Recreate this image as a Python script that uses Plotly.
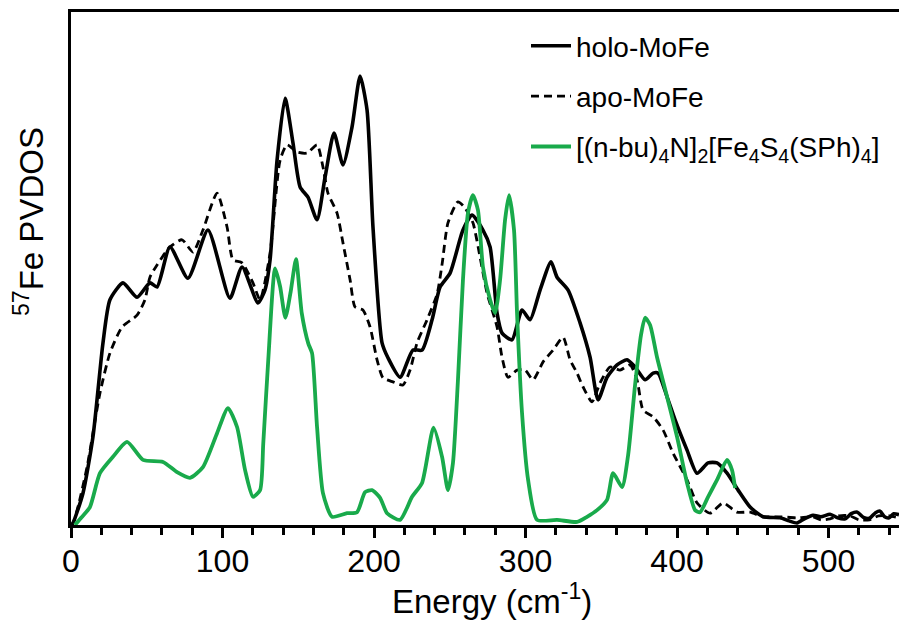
import plotly.graph_objects as go

# ---- data ----
holo_x = [0, 1.3, 7.9, 14.5, 21.1, 25.7, 34.3, 43.6, 52.1, 56.8, 65.3, 77.2, 90.4, 104.9, 112.9, 123.4,
          128.0, 131.4, 136.0, 141.3, 146.5, 151.2, 156.4, 162.4, 167.7, 173.6, 179.5, 185.5, 190.8, 195.4,
          199.3, 205.3, 209.2, 217.2, 225.7, 231.7, 238.3, 243.6, 250.2, 258.7, 264.7, 271.9, 276.6, 281.2,
          284.5, 291.1, 297.7, 303.0, 309.6, 316.8, 320.8, 328.1, 336.0, 342.6, 347.9, 353.8, 360.4, 367.0,
          372.3, 378.9, 384.2, 387.5, 393.4, 398.7, 406.6, 413.2, 420.5, 426.4, 433.0, 440.3, 448.2, 456.8,
          468.0, 474.0, 479.2, 484.0, 489.8, 495.0, 501.0, 506.0, 511.0, 515.0, 519.0, 523.0, 527.0, 531.0,
          534.0, 537.0, 540.0, 543.0, 546.5]
holo_y = [0, 0.004, 0.062, 0.172, 0.355, 0.439, 0.472, 0.444, 0.472, 0.464, 0.542, 0.481, 0.575, 0.442, 0.503, 0.433,
          0.458, 0.517, 0.711, 0.832, 0.745, 0.659, 0.639, 0.595, 0.678, 0.764, 0.702, 0.776, 0.875, 0.809,
          0.581, 0.355, 0.326, 0.288, 0.341, 0.341, 0.400, 0.464, 0.491, 0.575, 0.604, 0.575, 0.542, 0.413,
          0.374, 0.361, 0.419, 0.400, 0.458, 0.513, 0.483, 0.458, 0.394, 0.327, 0.244, 0.288, 0.312, 0.322,
          0.308, 0.283, 0.296, 0.296, 0.250, 0.205, 0.146, 0.101, 0.121, 0.121, 0.101, 0.068, 0.035, 0.016,
          0.014, 0.008, 0.004, 0.012, 0.019, 0.016, 0.021, 0.014, 0.012, 0.022, 0.025, 0.015, 0.013, 0.024,
          0.027, 0.016, 0.014, 0.022, 0.020]

apo_x = [0, 1.3, 5.0, 10.6, 19.1, 25.7, 33.7, 43.6, 48.8, 52.1, 56.8, 65.3, 73.3, 80.5, 87.1, 96.4, 103.0,
         106.9, 112.9, 120.1, 124.8, 131.4, 138.0, 142.6, 149.2, 155.8, 162.4, 166.3, 169.6, 175.6, 179.5,
         184.2, 187.5, 192.7, 197.4, 202.0, 205.9, 212.5, 219.1, 223.8, 228.4, 235.0, 241.6, 245.0, 248.8,
         255.4, 260.1, 265.3, 270.0, 274.6, 281.2, 284.5, 288.4, 294.4, 299.7, 305.0, 311.6, 318.2, 324.8,
         329.4, 334.0, 338.0, 343.9, 349.2, 355.8, 362.4, 369.0, 373.6, 377.6, 384.2, 390.8, 397.4, 406.6,
         413.2, 421.8, 430.4, 439.6, 448.2, 456.8, 468.0, 479.2, 489.8, 495.0, 501.0, 507.0, 514.0, 520.0,
         527.0, 533.0, 540.0, 546.5]
apo_y = [0, 0.003, 0.040, 0.113, 0.257, 0.335, 0.386, 0.409, 0.439, 0.483, 0.507, 0.542, 0.556, 0.532, 0.575, 0.647, 0.581,
         0.517, 0.511, 0.472, 0.439, 0.530, 0.711, 0.741, 0.727, 0.725, 0.741, 0.698, 0.647, 0.608, 0.550,
         0.478, 0.425, 0.419, 0.386, 0.322, 0.287, 0.279, 0.273, 0.302, 0.355, 0.400, 0.450, 0.510, 0.589,
         0.630, 0.618, 0.589, 0.522, 0.452, 0.386, 0.327, 0.288, 0.302, 0.302, 0.283, 0.318, 0.341, 0.366,
         0.322, 0.296, 0.269, 0.240, 0.277, 0.308, 0.302, 0.312, 0.283, 0.224, 0.211, 0.185, 0.140, 0.088,
         0.043, 0.023, 0.043, 0.025, 0.025, 0.016, 0.016, 0.014, 0.016, 0.010, 0.012, 0.018, 0.018, 0.010,
         0.010, 0.018, 0.018, 0.014]

fes_x = [2.6, 7.0, 12.5, 19.1, 27.7, 37.0, 47.5, 60.7, 70.0, 78.5, 87.1, 96.4, 103.6, 109.6, 114.9, 120.1,
         124.8, 126.9, 130.2, 134.7, 138.0, 141.5, 145.0, 148.5, 152.3, 156.6, 159.1, 162.4, 166.3, 172.3,
         182.2, 188.8, 194.1, 198.7, 204.0, 208.6, 217.2, 225.1, 231.7, 239.3, 244.9, 248.8, 252.1, 255.4,
         258.7, 262.0, 265.3, 268.6, 271.9, 276.6, 279.9, 283.2, 286.5, 289.1, 292.4, 294.4, 297.7, 301.7,
         307.6, 320.8, 334.0, 340.6, 347.2, 353.8, 357.8, 363.7, 367.7, 372.3, 376.2, 378.9, 382.2, 386.8,
         393.4, 400.0, 406.6, 411.9, 415.2, 420.5, 426.4, 433.0, 436.3, 438.3]
fes_y = [0, 0.015, 0.035, 0.101, 0.133, 0.162, 0.127, 0.123, 0.103, 0.092, 0.113, 0.179, 0.228, 0.191, 0.107, 0.055,
         0.068, 0.159, 0.322, 0.500, 0.465, 0.404, 0.455, 0.518, 0.413, 0.354, 0.335, 0.191, 0.062, 0.016,
         0.023, 0.025, 0.064, 0.068, 0.053, 0.023, 0.010, 0.055, 0.082, 0.190, 0.133, 0.068, 0.121, 0.283,
         0.478, 0.608, 0.643, 0.614, 0.503, 0.439, 0.413, 0.478, 0.595, 0.643, 0.575, 0.413, 0.218, 0.088,
         0.010, 0.010, 0.006, 0.016, 0.029, 0.049, 0.101, 0.074, 0.136, 0.273, 0.370, 0.404, 0.390, 0.327,
         0.250, 0.172, 0.082, 0.029, 0.025, 0.055, 0.088, 0.127, 0.107, 0.072]

series_names = ["holo-MoFe", "apo-MoFe",
                "[(n-bu)<sub>4</sub>N]<sub>2</sub>[Fe<sub>4</sub>S<sub>4</sub>(SPh)<sub>4</sub>]"]
x_ticks = [0, 100, 200, 300, 400, 500]

FONT = "Liberation Sans, Arial, sans-serif"
GREEN = "#19aa4b"

fig = go.Figure()
fig.add_trace(go.Scatter(x=holo_x, y=holo_y, mode="lines", name=series_names[0], legendgroup="a",
                         line=dict(color="black", width=3.6, shape="spline", smoothing=0.6)))
fig.add_trace(go.Scatter(x=apo_x, y=apo_y, mode="lines", name=series_names[1], legendgroup="b",
                         line=dict(color="black", width=2.8, dash="8px,5px", shape="spline", smoothing=0.6)))
fig.add_trace(go.Scatter(x=fes_x, y=fes_y, mode="lines", name=series_names[2], legendgroup="c",
                         line=dict(color=GREEN, width=3.8, shape="spline", smoothing=0.6)))

W, H = 899, 631
ml, mr, mt, mb = 71, 0, 12, 106
pw, ph = W - ml - mr, H - mt - mb

def px2paper(px, py):
    return (px - ml) / pw, (H - mb - py) / ph

yx, yy = px2paper(29, 222)
xx, xy = px2paper(492, 599)
lx, ly = px2paper(526, 21)

fig.update_layout(
    width=W, height=H,
    margin=dict(l=ml, r=mr, t=mt, b=mb),
    paper_bgcolor="white", plot_bgcolor="white",
    font=dict(family=FONT, color="black"),
    showlegend=True,
    legend=dict(x=lx, y=ly, xanchor="left", yanchor="top", font=dict(size=28, family=FONT),
                bgcolor="rgba(0,0,0,0)", traceorder="grouped", tracegroupgap=11, itemwidth=40),
    xaxis=dict(range=[0, 546.5], tickvals=x_ticks, ticks="outside", ticklen=10, tickwidth=2.5,
               tickcolor="black", showline=True, linewidth=3, linecolor="black", mirror=True,
               showgrid=False, zeroline=False, tickfont=dict(size=32, family=FONT),
               ticklabelstandoff=-4,
               minor=dict(dtick=20, tick0=0, ticks="outside", ticklen=7, tickwidth=2.5, tickcolor="black",
                          showgrid=False)),
    yaxis=dict(range=[0, 1], showline=True, linewidth=3, linecolor="black", showticklabels=False,
               ticks="", showgrid=False, zeroline=False),
    annotations=[
        dict(text="<sup>57</sup>Fe PVDOS", x=yx, y=yy, xref="paper", yref="paper", textangle=-90,
             showarrow=False, font=dict(size=33, family=FONT), xanchor="center", yanchor="middle"),
        dict(text="Energy (cm<sup>-1</sup>)", x=xx, y=xy, xref="paper", yref="paper",
             showarrow=False, font=dict(size=33, family=FONT), xanchor="center", yanchor="middle"),
    ],
)

fig.write_html(
    "out.html",
    config={"displayModeBar": False},
    post_script="document.body.style.margin='0';document.documentElement.style.overflow='hidden';document.body.style.overflow='hidden';",
)
